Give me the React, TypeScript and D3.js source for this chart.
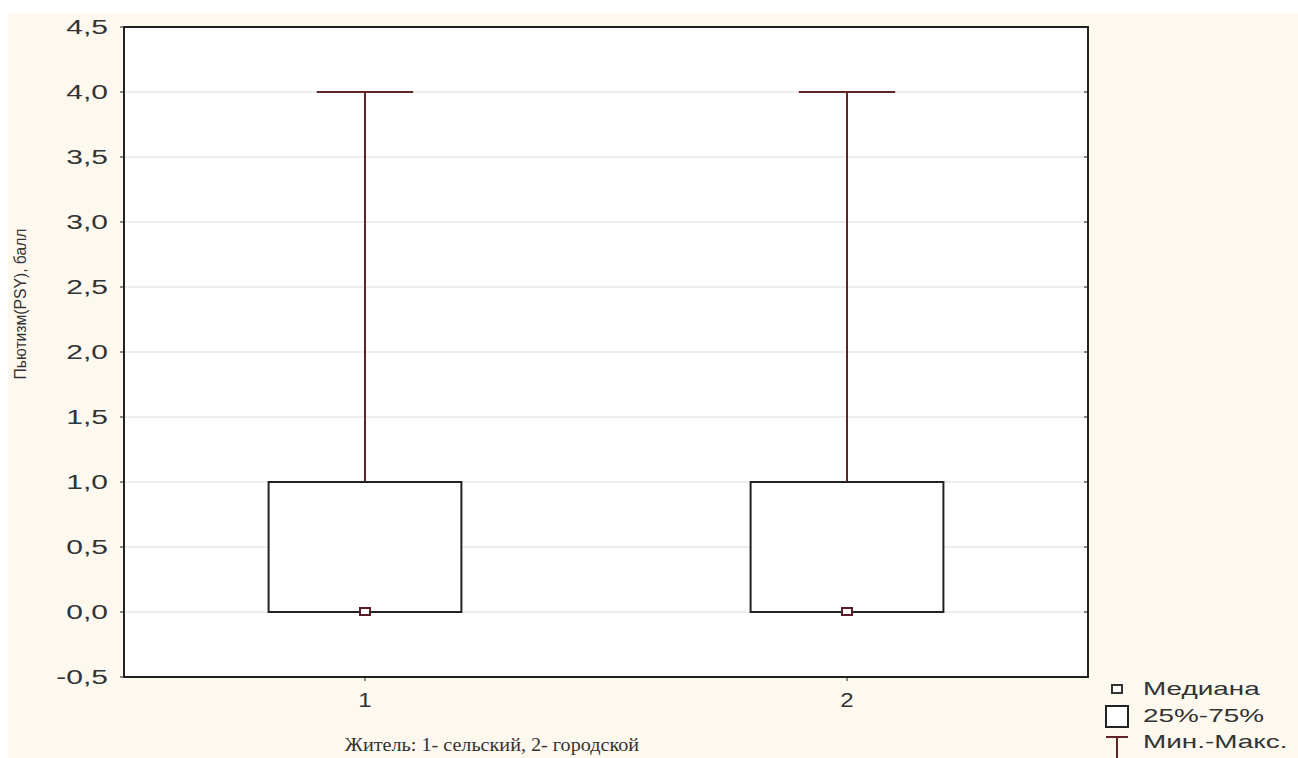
import React, { useRef, useEffect } from "react";
import { select, scaleLinear, scalePoint, range } from "d3";

const categories = ["1", "2"];
const minValues = [0, 0];
const q1Values = [0, 0];
const medianValues = [0, 0];
const q3Values = [1, 1];
const maxValues = [4, 4];
const yTicks = [-0.5, 0, 0.5, 1, 1.5, 2, 2.5, 3, 3.5, 4, 4.5];
const legendLabels = ["Медиана", "25%-75%", "Мин.-Макс."];

const W = 1298;
const H = 758;
const WHISKER = "#5e2626";
const SANS = "Liberation Sans, Arial, sans-serif";

// the original text is drawn wide, so stretch each text horizontally
function stretch(sel: any, factor: number) {
    sel.each(function (this: SVGTextElement) {
        const len = this.getComputedTextLength();
        select(this).attr("textLength", len * factor).attr("lengthAdjust", "spacingAndGlyphs");
    });
}

function App() {
    const svgRef = useRef<SVGSVGElement>(null);

    useEffect(() => {
        const svg = select(svgRef.current);
        svg.selectAll("*").remove();

        const left = 124, right = 1088, top = 27, bottom = 677;

        const yScale = scaleLinear().domain([-0.5, 4.5]).range([bottom, top]);
        const xScale = scalePoint().domain(categories).range([left, right]).padding(0.5);
        const step = xScale.step();

        // background
        svg.append("rect").attr("x", 0).attr("y", 0).attr("width", W).attr("height", H).attr("fill", "#ffffff");
        svg.append("rect").attr("x", 8).attr("y", 13).attr("width", W - 8).attr("height", H - 13).attr("fill", "#fdf9ef");
        svg.append("rect").attr("x", left).attr("y", top).attr("width", right - left).attr("height", bottom - top).attr("fill", "#ffffff");

        // grid
        svg.selectAll(".grid").data(yTicks.slice(1, -1)).join("line")
            .attr("x1", left).attr("x2", right)
            .attr("y1", d => yScale(d)).attr("y2", d => yScale(d))
            .attr("stroke", "#dcdcdc").attr("stroke-width", 1);

        // y ticks + labels
        const fmt = (d: number) => d.toFixed(1).replace(".", ",");
        svg.selectAll(".ytick").data(yTicks).join("line")
            .attr("x1", left - 4).attr("x2", left)
            .attr("y1", d => yScale(d)).attr("y2", d => yScale(d))
            .attr("stroke", "#222");
        svg.selectAll(".ytickr").data(yTicks).join("line")
            .attr("x1", right - 4).attr("x2", right)
            .attr("y1", d => yScale(d)).attr("y2", d => yScale(d))
            .attr("stroke", "#222");
        const ylabs = svg.selectAll(".ylab").data(yTicks).join("text")
            .attr("x", 108).attr("y", d => yScale(d) + 7)
            .attr("text-anchor", "end")
            .attr("font-family", SANS)
            .attr("font-size", 20)
            .attr("fill", "#333")
            .text(d => fmt(d));
        stretch(ylabs, 1.5);

        // x ticks + labels
        svg.selectAll(".xtick").data(categories).join("line")
            .attr("x1", d => xScale(d)!).attr("x2", d => xScale(d)!)
            .attr("y1", bottom).attr("y2", bottom + 4)
            .attr("stroke", "#222");
        const xlabs = svg.selectAll(".xlab").data(categories).join("text")
            .attr("x", d => xScale(d)!).attr("y", bottom + 30)
            .attr("text-anchor", "middle")
            .attr("font-family", SANS)
            .attr("font-size", 20).attr("fill", "#333")
            .text(d => d);
        stretch(xlabs, 1.2);

        // boxes
        const idx = range(categories.length);
        const boxW = step * 0.4;
        const capW = step * 0.2;

        svg.selectAll(".whisker").data(idx).join("line")
            .attr("x1", i => xScale(categories[i])!).attr("x2", i => xScale(categories[i])!)
            .attr("y1", i => yScale(q3Values[i])).attr("y2", i => yScale(maxValues[i]))
            .attr("stroke", WHISKER).attr("stroke-width", 2);
        svg.selectAll(".cap").data(idx).join("line")
            .attr("x1", i => xScale(categories[i])! - capW / 2).attr("x2", i => xScale(categories[i])! + capW / 2)
            .attr("y1", i => yScale(maxValues[i])).attr("y2", i => yScale(maxValues[i]))
            .attr("stroke", WHISKER).attr("stroke-width", 2);
        svg.selectAll(".capmin").data(idx).join("line")
            .attr("x1", i => xScale(categories[i])! - capW / 2).attr("x2", i => xScale(categories[i])! + capW / 2)
            .attr("y1", i => yScale(minValues[i])).attr("y2", i => yScale(minValues[i]))
            .attr("stroke", WHISKER).attr("stroke-width", 2);
        svg.selectAll(".box").data(idx).join("rect")
            .attr("x", i => xScale(categories[i])! - boxW / 2)
            .attr("width", boxW)
            .attr("y", i => yScale(q3Values[i]))
            .attr("height", i => yScale(q1Values[i]) - yScale(q3Values[i]))
            .attr("fill", "#ffffff").attr("stroke", "#222").attr("stroke-width", 2);
        svg.selectAll(".median").data(idx).join("rect")
            .attr("x", i => xScale(categories[i])! - 5)
            .attr("y", i => yScale(medianValues[i]) - 4)
            .attr("width", 10).attr("height", 7)
            .attr("fill", "#ffffff").attr("stroke", "#5a1e2a").attr("stroke-width", 2);

        // frame
        svg.append("rect").attr("x", left).attr("y", top).attr("width", right - left).attr("height", bottom - top)
            .attr("fill", "none").attr("stroke", "#222").attr("stroke-width", 2);

        // axis titles
        const ytitle = svg.append("text")
            .attr("transform", `translate(26, 304) rotate(-90)`)
            .attr("text-anchor", "middle")
            .attr("font-family", SANS)
            .attr("font-size", 16).attr("fill", "#333")
            .text("Пьютизм(PSY), балл");
        stretch(ytitle, 0.98);
        const xtitle = svg.append("text")
            .attr("x", 492).attr("y", 751)
            .attr("text-anchor", "middle")
            .attr("font-family", "Liberation Serif, Times New Roman, serif")
            .attr("font-size", 18).attr("fill", "#333")
            .text("Житель: 1- сельский, 2- городской");
        stretch(xtitle, 1.12);

        // legend
        const lx = 1117;
        const ly = [689, 716, 742];
        svg.append("rect").attr("x", lx - 5).attr("y", ly[0] - 4).attr("width", 10).attr("height", 8)
            .attr("fill", "#fff").attr("stroke", "#333").attr("stroke-width", 2);
        svg.append("rect").attr("x", lx - 11).attr("y", ly[1] - 10).attr("width", 22).attr("height", 21)
            .attr("fill", "#fff").attr("stroke", "#222").attr("stroke-width", 2);
        svg.append("line").attr("x1", lx - 11).attr("x2", lx + 11).attr("y1", ly[2] - 5).attr("y2", ly[2] - 5)
            .attr("stroke", WHISKER).attr("stroke-width", 2);
        svg.append("line").attr("x1", lx).attr("x2", lx).attr("y1", ly[2] - 5).attr("y2", ly[2] + 16)
            .attr("stroke", WHISKER).attr("stroke-width", 2);
        const leg = svg.selectAll(".leg").data(legendLabels).join("text")
            .attr("x", 1143).attr("y", (d, i) => ly[i] + 6)
            .attr("font-family", SANS)
            .attr("font-size", 18).attr("fill", "#333")
            .text(d => d);
        stretch(leg, 1.55);
    }, []);

    return (
        <div style={{ position: "absolute", left: 0, top: 0 }}>
            <svg ref={svgRef} width={W} height={H}></svg>
        </div>
    );
}

export default App;
